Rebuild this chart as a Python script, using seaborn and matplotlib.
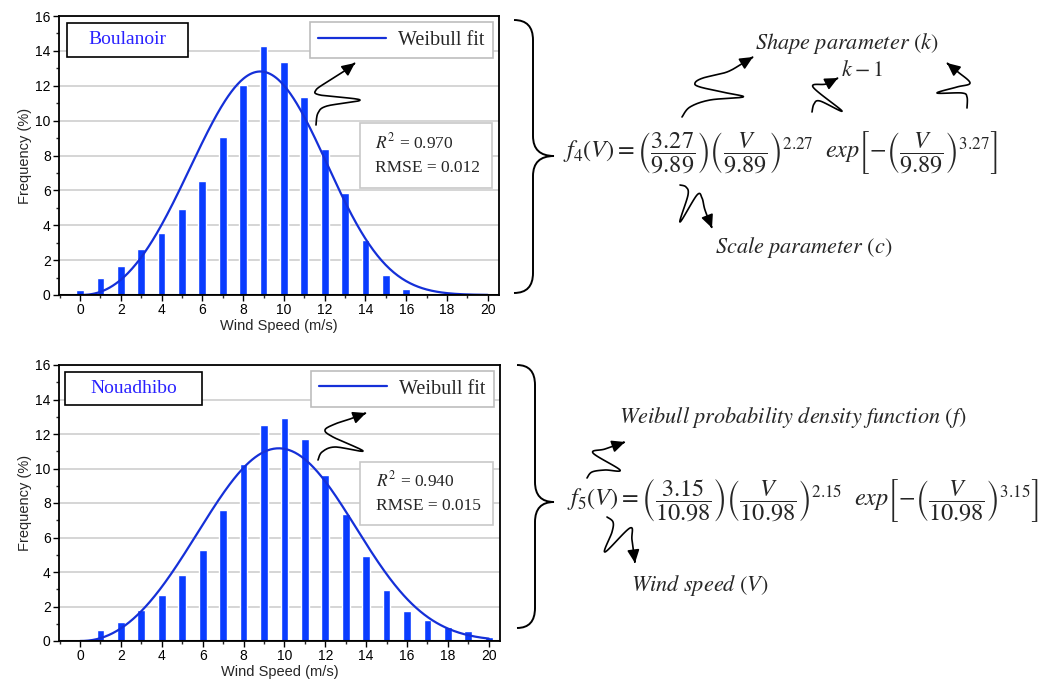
import numpy as np
import pandas as pd
import seaborn as sns
import matplotlib.pyplot as plt
from matplotlib.path import Path
from matplotlib.patches import FancyArrowPatch, PathPatch, Rectangle
from matplotlib.ticker import MultipleLocator

# ---------------- data ----------------
speeds = list(range(0, 21))
freq_boulanoir = [0.30, 0.96, 1.68, 2.62, 3.58, 4.93, 6.52, 9.08, 12.07, 14.28, 13.37,
                  11.36, 8.37, 5.83, 3.15, 1.17, 0.34, 0.0, 0.0, 0.0, 0.0]
freq_nouadhibo = [0.0, 0.62, 1.10, 1.81, 2.66, 3.84, 5.27, 7.59, 10.27, 12.51, 12.92,
                  11.72, 9.63, 7.34, 4.94, 2.93, 1.74, 1.22, 0.81, 0.56, 0.25]
sites = ["Boulanoir", "Nouadhibo"]
shape_k = [3.27, 3.15]
scale_c = [9.89, 10.98]
r2_vals = ["0.970", "0.940"]
rmse_vals = ["0.012", "0.015"]
legend_label = "Weibull fit"
x_label = "Wind Speed (m/s)"
y_label = "Frequency (%)"

W, H = 1056, 691
sns.set_style("ticks")
plt.rcParams["font.family"] = ["Liberation Sans", "DejaVu Sans"]
plt.rcParams["mathtext.fontset"] = "stix"

fig = plt.figure(figsize=(W / 100, H / 100), dpi=100)

BAR_C = "#0a3cff"
LINE_C = "#1530d8"
SERIF = ["Liberation Serif", "DejaVu Serif"]


def px(x, y):
    return x / W, 1 - y / H


def ax_rect(l, t, r, b):
    return [l / W, 1 - b / H, (r - l) / W, (b - t) / H]


axes_boxes = [ax_rect(59, 16, 499, 295), ax_rect(59, 365, 500, 641)]
freqs = [freq_boulanoir, freq_nouadhibo]
name_boxes = [(0.018, 0.853, 0.275, 0.122), (0.014, 0.855, 0.310, 0.120)]
stat_boxes = [(0.684, 0.384, 0.300, 0.232), (0.683, 0.420, 0.301, 0.229)]

for i in range(2):
    ax = fig.add_axes(axes_boxes[i])
    df = pd.DataFrame({"speed": speeds, "freq": freqs[i]})
    sns.barplot(data=df, x="speed", y="freq", native_scale=True, width=0.38,
                color=BAR_C, saturation=1, errorbar=None, ax=ax, zorder=2)
    v = np.linspace(0, 20, 400)
    k, c = shape_k[i], scale_c[i]
    pdf = (k / c) * (v / c) ** (k - 1) * np.exp(-(v / c) ** k) * 100
    sns.lineplot(x=v, y=pdf, color=LINE_C, lw=1.6, ax=ax, zorder=3, label=legend_label)
    ax.set_xlim(-1.03, 20.55)
    ax.set_ylim(0, 16)
    ax.set_xticks(range(0, 21, 2))
    ax.set_yticks(range(0, 17, 2))
    ax.xaxis.set_minor_locator(MultipleLocator(1))
    ax.yaxis.set_minor_locator(MultipleLocator(1))
    ax.tick_params(which="major", direction="out", length=4, width=1, labelsize=10,
                   colors="black", pad=2)
    ax.tick_params(which="minor", direction="out", length=2.5, width=1)
    ax.yaxis.grid(True, color="#d5d5d5", lw=1.4)
    ax.set_axisbelow(True)
    ax.axhline(0, color="black", lw=2.2, zorder=4)
    for s in ax.spines.values():
        s.set_linewidth(1.3)
        s.set_color("black")
    ax.set_xlabel(x_label, fontsize=10.5, labelpad=1)
    ax.set_ylabel(y_label, fontsize=10.5, labelpad=2)

    # site name box
    bx, by, bw, bh = name_boxes[i]
    ax.add_patch(Rectangle((bx, by), bw, bh, transform=ax.transAxes, fill=True,
                           facecolor="white", edgecolor="black", lw=1.2, zorder=5))
    ax.text(bx + bw / 2, by + bh / 2, sites[i], transform=ax.transAxes, ha="center",
            va="center", fontsize=14, color="#2a22ff", family=SERIF, zorder=6)

    # legend
    leg = ax.legend(loc="upper right", bbox_to_anchor=(0.986, 0.977), frameon=True,
                    fancybox=False, edgecolor="#bdbdbd", framealpha=1,
                    prop={"family": SERIF, "size": 14.5}, handlelength=3.4,
                    borderpad=0.4, handletextpad=0.6, borderaxespad=0)
    leg.get_frame().set_linewidth(1.2)
    leg.set_zorder(6)

    # stats box
    sx, sy, sw, sh = stat_boxes[i]
    ax.add_patch(Rectangle((sx, sy), sw, sh, transform=ax.transAxes, facecolor="white",
                           edgecolor="#c8c8c8", lw=1.2, zorder=5))
    ax.text(sx + 0.035, sy + sh * 0.70, r"$R^2$ = " + r2_vals[i], transform=ax.transAxes,
            ha="left", va="center", fontsize=12.5, family=SERIF, zorder=6)
    ax.text(sx + 0.035, sy + sh * 0.30, "RMSE = " + rmse_vals[i], transform=ax.transAxes,
            ha="left", va="center", fontsize=12.5, family=SERIF, zorder=6)


# ---------------- decorations ----------------
def catmull(pts, n=16):
    pts = np.asarray(pts, float)
    P = np.vstack([pts[0], pts, pts[-1]])
    out = []
    for j in range(1, len(P) - 2):
        p0, p1, p2, p3 = P[j - 1], P[j], P[j + 1], P[j + 2]
        t = np.linspace(0, 1, n, endpoint=False)[:, None]
        seg = 0.5 * ((2 * p1) + (-p0 + p2) * t + (2 * p0 - 5 * p1 + 4 * p2 - p3) * t ** 2
                     + (-p0 + 3 * p1 - 3 * p2 + p3) * t ** 3)
        out.append(seg)
    out.append(pts[-1][None])
    return np.vstack(out)


def squiggle(pts):
    cc = catmull(pts)
    f = np.column_stack([cc[:, 0] / W, 1 - cc[:, 1] / H])
    p = FancyArrowPatch(path=Path(f), arrowstyle="-|>,head_length=0.6,head_width=0.28",
                        mutation_scale=13, color="black", lw=1.2,
                        transform=fig.transFigure)
    fig.add_artist(p)


def brace(xend, xmid, xtip, ytop, ytip, ybot):
    r = 20
    verts = [(xend, ytop), (xmid, ytop), (xmid, ytop + r),
             (xmid, ytip - r),
             (xmid, ytip), (xtip, ytip),
             (xmid, ytip), (xmid, ytip + r),
             (xmid, ybot - r),
             (xmid, ybot), (xend, ybot)]
    codes = [Path.MOVETO, Path.CURVE3, Path.CURVE3, Path.LINETO, Path.CURVE3, Path.CURVE3,
             Path.CURVE3, Path.CURVE3, Path.LINETO, Path.CURVE3, Path.CURVE3]
    f = [px(x, y) for x, y in verts]
    fig.add_artist(PathPatch(Path(f, codes), fill=False, lw=1.4, edgecolor="black",
                             transform=fig.transFigure))


brace(514, 533, 554, 20, 156, 293)
brace(517, 535, 554, 365, 502, 628)

# chart arrows
squiggle([(316, 125), (318, 113), (327, 106), (360, 100), (320, 95), (316, 90),
          (327, 82), (343, 72), (355, 63)])
squiggle([(318, 460), (322, 452), (335, 447), (363, 451), (333, 437), (325, 430),
          (335, 424), (350, 419), (366, 413)])

# formulas
f4 = (r"$f_4(V) = \left(\dfrac{3.27}{9.89}\right)\left(\dfrac{V}{9.89}\right)^{2.27}"
      r"\ \ exp\left[-\left(\dfrac{V}{9.89}\right)^{3.27}\right]$")
f5 = (r"$f_5(V) = \left(\dfrac{3.15}{10.98}\right)\left(\dfrac{V}{10.98}\right)^{2.15}"
      r"\ \ exp\left[-\left(\dfrac{V}{10.98}\right)^{3.15}\right]$")
fig.text(*px(563, 153), f4, ha="left", va="center", fontsize=17.5)
fig.text(*px(567, 500), f5, ha="left", va="center", fontsize=17.5)

fig.text(*px(847, 43), r"$Shape\ parameter\ (k)$", ha="center", va="center", fontsize=16)
fig.text(*px(862, 71), r"$k-1$", ha="center", va="center", fontsize=16)
fig.text(*px(804, 247), r"$Scale\ parameter\ (c)$", ha="center", va="center", fontsize=16)
fig.text(*px(793, 418), r"$Weibull\ probability\ density\ function\ (f)$", ha="center",
         va="center", fontsize=16)
fig.text(*px(700, 585), r"$Wind\ speed\ (V)$", ha="center", va="center", fontsize=16)

squiggle([(682, 117), (690, 107), (710, 100), (743, 97), (727, 93), (700, 87), (695, 83),
          (703, 78), (727, 72), (743, 63), (753, 57)])
squiggle([(812, 112), (814, 104), (820, 101), (842, 111), (813, 87), (826, 84), (838, 78)])
squiggle([(967, 108), (967, 97), (962, 93), (937, 93), (957, 87), (970, 83), (958, 72),
          (947, 63)])
squiggle([(680, 185), (686, 187), (688, 195), (680, 222), (697, 195), (702, 198),
          (705, 210), (712, 228)])
squiggle([(587, 478), (592, 472), (605, 470), (620, 470), (593, 453), (605, 449),
          (625, 442)])
squiggle([(607, 517), (613, 522), (612, 532), (605, 552), (630, 528), (632, 540),
          (635, 563)])

fig.savefig("out.png", dpi=100)
